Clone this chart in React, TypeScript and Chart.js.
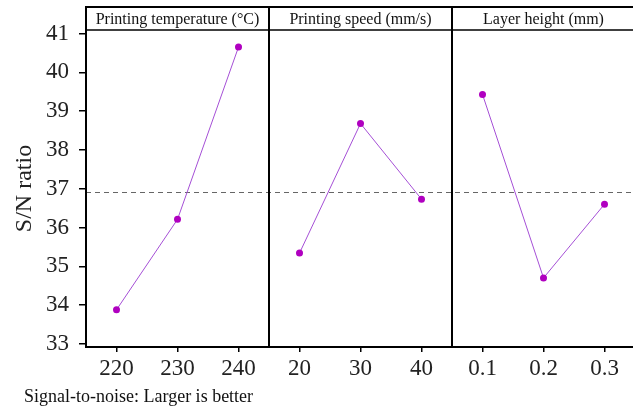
import React, { useEffect, useRef } from "react";
import { Chart, registerables } from "chart.js";

Chart.register(...registerables);

const panelTitles = ["Printing temperature (°C)", "Printing speed (mm/s)", "Layer height (mm)"];
const tempLevels = ["220", "230", "240"];
const speedLevels = ["20", "30", "40"];
const layerLevels = ["0.1", "0.2", "0.3"];
const tempSN = [33.88, 36.21, 40.65];
const speedSN = [35.34, 38.68, 36.73];
const layerSN = [39.43, 34.7, 36.6];
const yTicks = [33, 34, 35, 36, 37, 38, 39, 40, 41];
const yRange = [32.92, 41.09];
const footerText = "Signal-to-noise: Larger is better";
const yTitle = "S/N ratio";

const SERIF = "'Liberation Serif', 'DejaVu Serif', serif";
const LINE_COLOR = "#a54fd6";
const POINT_COLOR = "#b000c0";

export default function App() {
  const ref = useRef<HTMLCanvasElement | null>(null);

  useEffect(() => {
    if (!ref.current) return;
    const labels = [...tempLevels, ...speedLevels, ...layerLevels];
    const groups = [tempSN, speedSN, layerSN];
    const allValues = [...tempSN, ...speedSN, ...layerSN];
    const mean = allValues.reduce((a, b) => a + b, 0) / allValues.length;

    const datasets = groups.map((vals, g) => {
      const data: (number | null)[] = labels.map(() => null);
      vals.forEach((v, i) => (data[g * 3 + i] = v));
      return {
        data,
        borderColor: LINE_COLOR,
        borderWidth: 1,
        pointBackgroundColor: POINT_COLOR,
        pointBorderColor: POINT_COLOR,
        pointRadius: 3.5,
        pointBorderWidth: 0,
        spanGaps: false,
        tension: 0,
        clip: false as any,
      };
    });

    const framePlugin = {
      id: "frame",
      beforeDatasetsDraw(chart: any) {
        const { ctx, chartArea, scales } = chart;
        const y = scales.y.getPixelForValue(mean);
        ctx.save();
        ctx.strokeStyle = "#666";
        ctx.lineWidth = 1;
        ctx.setLineDash([5, 4]);
        ctx.beginPath();
        ctx.moveTo(chartArea.left, Math.round(y) + 0.5);
        ctx.lineTo(chartArea.right, Math.round(y) + 0.5);
        ctx.stroke();
        ctx.restore();
      },
      afterDraw(chart: any) {
        const { ctx, chartArea, scales } = chart;
        const x = scales.x;
        const top = 7;
        const bottom = chartArea.bottom;
        const left = chartArea.left;
        const right = chartArea.right;
        ctx.save();
        ctx.strokeStyle = "#000";
        ctx.lineWidth = 2;
        ctx.beginPath();
        ctx.moveTo(left, top);
        ctx.lineTo(right, top);
        ctx.stroke();
        ctx.lineWidth = 1.5;
        ctx.beginPath();
        ctx.moveTo(left, chartArea.top);
        ctx.lineTo(right, chartArea.top);
        ctx.stroke();
        ctx.lineWidth = 2;
        ctx.beginPath();
        ctx.moveTo(left, top - 1);
        ctx.lineTo(left, bottom);
        ctx.stroke();
        const bounds = [left];
        for (let g = 1; g < 3; g++) {
          const bx = (x.getPixelForValue(g * 3 - 1) + x.getPixelForValue(g * 3)) / 2;
          bounds.push(bx);
          ctx.beginPath();
          ctx.moveTo(bx, top);
          ctx.lineTo(bx, bottom);
          ctx.stroke();
        }
        bounds.push(right);
        ctx.fillStyle = "#111";
        ctx.font = "16px " + SERIF;
        ctx.textAlign = "center";
        ctx.textBaseline = "middle";
        for (let g = 0; g < 3; g++) {
          ctx.fillText(panelTitles[g], (bounds[g] + bounds[g + 1]) / 2, (top + chartArea.top) / 2 + 1);
        }
        ctx.textAlign = "left";
        ctx.font = "18px " + SERIF;
        ctx.fillText(footerText, 24, 397);
        ctx.restore();
      },
    };

    const chart = new Chart(ref.current, {
      type: "line",
      data: { labels, datasets },
      options: {
        animation: false,
        responsive: false,
        layout: { autoPadding: false, padding: { top: 30, right: 0, bottom: 0, left: 0 } },
        plugins: { legend: { display: false }, tooltip: { enabled: false } },
        scales: {
          x: {
            type: "category",
            offset: true,
            afterFit: (s: any) => {
              s.height = 62;
              s.paddingRight = 0;
              s.paddingLeft = 0;
            },
            grid: { drawOnChartArea: false, tickLength: 5, color: "#000", lineWidth: 1.5 },
            border: { display: true, color: "#000", width: 2 },
            ticks: { color: "#222", font: { family: SERIF, size: 23 }, padding: 3, maxRotation: 0, autoSkip: false },
          },
          y: {
            type: "linear",
            min: yRange[0],
            max: yRange[1],
            afterFit: (s: any) => {
              s.width = 86;
              s.paddingTop = 0;
              s.paddingBottom = 0;
            },
            afterBuildTicks: (s: any) => {
              s.ticks = yTicks.map((v) => ({ value: v }));
            },
            grid: { drawOnChartArea: false, tickLength: 7, color: "#000", lineWidth: 1.5 },
            border: { display: true, color: "#000", width: 2 },
            ticks: { color: "#222", font: { family: SERIF, size: 23 }, padding: 10 },
            title: {
              display: true,
              text: yTitle,
              color: "#222",
              font: { family: SERIF, size: 24 },
              padding: { top: 10, bottom: 0 },
            },
          },
        },
      },
      plugins: [framePlugin],
    });
    return () => chart.destroy();
  }, []);

  return (
    <div style={{ position: "absolute", left: 0, top: 0, width: 633, height: 409, overflow: "hidden", background: "#fff" }}>
      <canvas ref={ref} width={635} height={409} style={{ width: 635, height: 409, display: "block" }} />
    </div>
  );
}
